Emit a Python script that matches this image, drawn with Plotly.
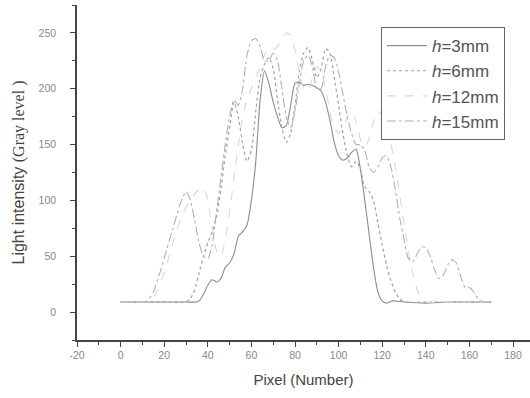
import plotly.graph_objects as go

# ---- data ----
x_3mm = [0, 5, 10, 15, 20, 25, 30, 35, 36, 38, 40, 42, 44, 46, 48, 50, 52, 54, 56, 58, 60, 62, 64, 66,
         68, 70, 72, 74, 76, 78, 80, 82, 84, 86, 88, 90, 92, 94, 96, 98, 100, 102, 104, 106, 108,
         110, 112, 114, 116, 118, 120, 122, 125, 130, 140, 150, 160, 170]
y_3mm = [9, 9, 9, 9, 9, 9, 9, 9, 10, 16, 24, 29, 27, 30, 40, 44, 52, 68, 72, 78, 100, 135, 190, 216,
         205, 188, 175, 165, 167, 185, 205, 206, 203, 204, 203, 201, 198, 188, 172, 152, 140, 136, 138, 143, 146,
         128, 100, 70, 40, 18, 10, 8, 10, 9, 8, 9, 9, 9]

x_6mm = [0, 10, 20, 30, 32, 34, 36, 38, 40, 42, 44, 46, 48, 50, 52, 54, 56, 58, 60, 62, 64, 66, 68, 70,
         72, 74, 76, 78, 80, 82, 84, 86, 88, 90, 92, 94, 96, 98, 100, 102, 104, 106, 108, 110, 112,
         114, 116, 118, 120, 122, 124, 126, 128, 130, 140, 150, 160, 170]
y_6mm = [9, 9, 9, 9, 12, 20, 35, 50, 62, 72, 85, 110, 140, 165, 188, 175, 150, 135, 145, 180, 210, 222, 228, 218,
         190, 165, 152, 160, 185, 215, 232, 237, 225, 210, 218, 236, 232, 210, 185, 160, 140, 130, 135, 128, 112,
         108, 100, 80, 60, 42, 28, 18, 12, 9, 9, 9, 9, 9]

x_12mm = [0, 6, 12, 14, 17, 20, 23, 26, 29, 32, 35, 38, 40, 42, 44, 46, 48, 50, 52, 54, 56, 58, 60, 62,
          64, 66, 68, 70, 72, 74, 76, 78, 80, 82, 84, 86, 88, 90, 92, 94, 96, 98, 100, 102, 104, 106,
          108, 110, 112, 114, 116, 118, 120, 122, 124, 126, 128, 130, 132, 134, 136, 138, 140, 150, 160, 170]
y_12mm = [9, 9, 9, 10, 20, 35, 55, 75, 90, 100, 108, 112, 100, 75, 55, 50, 65, 90, 120, 150, 175, 190, 200, 210,
          220, 230, 236, 235, 238, 245, 250, 248, 235, 215, 200, 198, 210, 220, 215, 200, 180, 165, 160, 165, 175, 180,
          170, 155, 148, 155, 170, 180, 175, 160, 150, 130, 105, 80, 55, 35, 20, 12, 9, 9, 9, 9]

x_15mm = [0, 5, 10, 12, 15, 18, 21, 24, 27, 30, 32, 34, 36, 38, 40, 42, 44, 46, 48, 50, 52, 54, 56, 58,
          60, 62, 64, 66, 68, 70, 72, 74, 76, 78, 80, 82, 84, 86, 88, 90, 92, 94, 96, 98, 100, 102,
          104, 106, 108, 110, 112, 114, 116, 118, 120, 122, 124, 126, 128, 130, 132, 134, 136, 138, 140,
          142, 144, 146, 148, 150, 152, 154, 156, 158, 160, 162, 164, 166, 170]
y_15mm = [9, 9, 9, 10, 18, 35, 55, 75, 95, 108, 100, 82, 62, 50, 48, 60, 90, 120, 150, 175, 190, 185, 200, 230,
          243, 245, 238, 225, 225, 232, 225, 200, 175, 165, 180, 205, 225, 230, 220, 200, 200, 220, 230, 228, 215, 195,
          175, 160, 150, 150, 145, 130, 125, 130, 138, 140, 130, 110, 85, 65, 48, 45, 52, 58, 58,
          50, 38, 30, 33, 42, 47, 44, 32, 22, 22, 18, 12, 9, 9]

series_names = ["<i>h</i>=3mm", "<i>h</i>=6mm", "<i>h</i>=12mm", "<i>h</i>=15mm"]
x_ticks = [-20, 0, 20, 40, 60, 80, 100, 120, 140, 160, 180]
y_ticks = [0, 50, 100, 150, 200, 250]

styles = [
    dict(color="#8c8c8c", dash="solid", width=1.1),
    dict(color="#a0a0a0", dash="dot", width=1.2),
    dict(color="#d8d8d8", dash="dash", width=1.1),
    dict(color="#b0b0b0", dash="dashdot", width=1.1),
]

fig = go.Figure()
for xs, ys, name, st in zip([x_3mm, x_6mm, x_12mm, x_15mm], [y_3mm, y_6mm, y_12mm, y_15mm], series_names, styles):
    fig.add_trace(go.Scatter(x=xs, y=ys, mode="lines", name=name,
                             line=dict(color=st["color"], dash=st["dash"], width=st["width"], shape="spline", smoothing=0.6)))

axis_common = dict(
    showline=True, linecolor="#444", linewidth=1.5, ticks="outside", ticklen=5, tickcolor="#444",
    tickfont=dict(family="Liberation Sans, Arial", size=10.5, color="#888"), showgrid=False, zeroline=False,
    mirror=False,
)

fig.update_layout(
    width=530, height=398,
    margin=dict(l=77, r=0, t=5, b=58),
    paper_bgcolor="white", plot_bgcolor="white",
    showlegend=True,
    legend=dict(x=0.671, y=0.934, xanchor="left", yanchor="top",
                bordercolor="#666", borderwidth=1, bgcolor="white",
                font=dict(family="Liberation Sans, Arial", size=17, color="#555"),
                tracegroupgap=0, itemwidth=40),
    xaxis=dict(range=[-20, 187.8], tickvals=x_ticks, ticktext=[str(v) for v in x_ticks],
               minor=dict(ticklen=3, dtick=10, tick0=0, ticks="outside", tickcolor="#444"),
               title=dict(text="Pixel (Number)", font=dict(family="Liberation Sans, Arial", size=15, color="#444"), standoff=14),
               **axis_common),
    yaxis=dict(range=[-25, 275], tickvals=y_ticks, ticktext=[str(v) for v in y_ticks],
               minor=dict(ticklen=3, dtick=25, tick0=0, ticks="outside", tickcolor="#444"),
               ticklabelstandoff=12,
               title=dict(text="Light intensity <span style=\"font-family:'Liberation Serif', 'Times New Roman'\">(Gray level )</span>",
                          font=dict(family="Liberation Sans, Arial", size=16, color="#444"), standoff=10),
               **axis_common),
)

fig.write_html("out.html")
